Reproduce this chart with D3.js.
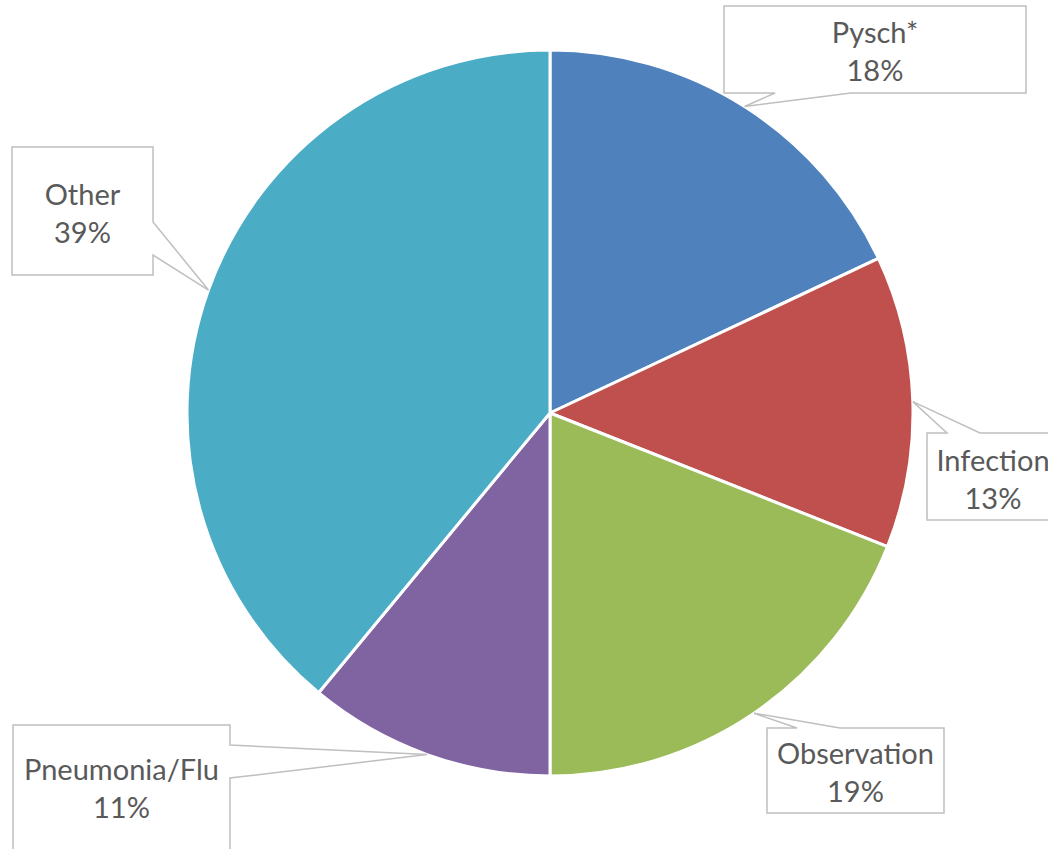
<!DOCTYPE html>
<html>
<head>
<meta charset="utf-8">
<script src="https://cdn.jsdelivr.net/npm/d3@7"></script>
<style>
  html, body { margin: 0; padding: 0; background: #fff; }
  svg { display: block; }
</style>
</head>
<body>
<div id="chart"></div>
<script>
// data
var categories = ["Pysch*", "Infection", "Observation", "Pneumonia/Flu", "Other"];
var shares = [18, 13, 19, 11, 39];
var sliceColors = ["#4F81BD", "#C0504D", "#9BBB59", "#8064A2", "#4BACC6"];

// callout boxes (layout only): box rect, side the pointer leaves from, pointer base span, first text baseline
var callouts = [
    {x: 724, y: 6, w: 302, h: 87, side: "bottom", base: [775, 851], ty: 43},
    {x: 927, y: 433, w: 132, h: 87, side: "top", base: [947, 980], ty: 471},
    {x: 767, y: 728, w: 177, h: 85, side: "top", base: [797, 840], ty: 764},
    {x: 13, y: 725, w: 217, h: 140, side: "right", base: [745, 778], ty: 780},
    {x: 12, y: 147, w: 141, h: 128, side: "right", base: [222, 255], ty: 205}
];

var W = 1048, H = 849;
var cx = 550, cy = 413, R = 363;

var svg = d3.select("#chart").append("svg")
    .attr("width", W)
    .attr("height", H);

var pie = d3.pie().sort(null).value(function(d) { return d; });
var arcs = pie(shares);
var arc = d3.arc().innerRadius(0).outerRadius(R);

var g = svg.append("g").attr("transform", "translate(" + cx + "," + cy + ")");

g.selectAll("path.slice")
    .data(arcs)
    .enter().append("path")
    .attr("class", "slice")
    .attr("d", arc)
    .attr("fill", function(d, i) { return sliceColors[i]; })
    .attr("stroke", "#fff")
    .attr("stroke-width", 3)
    .attr("stroke-linejoin", "round");

function calloutPath(c, tip) {
    var x0 = c.x, y0 = c.y, x1 = c.x + c.w, y1 = c.y + c.h;
    var p = [];
    if (c.side === "top") {
        p = [[x0, y0], [c.base[0], y0], tip, [c.base[1], y0], [x1, y0], [x1, y1], [x0, y1]];
    } else if (c.side === "bottom") {
        p = [[x0, y0], [x1, y0], [x1, y1], [c.base[1], y1], tip, [c.base[0], y1], [x0, y1]];
    } else if (c.side === "right") {
        p = [[x0, y0], [x1, y0], [x1, c.base[0]], tip, [x1, c.base[1]], [x1, y1], [x0, y1]];
    } else {
        p = [[x0, y0], [x1, y0], [x1, y1], [x0, y1], [x0, c.base[1]], tip, [x0, c.base[0]]];
    }
    return "M" + p.map(function(q) { return q[0] + "," + q[1]; }).join("L") + "Z";
}

var labels = svg.append("g").attr("class", "labels");

arcs.forEach(function(d, i) {
    var c = callouts[i];
    var mid = (d.startAngle + d.endAngle) / 2;
    var tip = [cx + R * Math.sin(mid), cy - R * Math.cos(mid)];

    labels.append("path")
        .attr("d", calloutPath(c, tip))
        .attr("fill", "#fff")
        .attr("stroke", "#BFBFBF")
        .attr("stroke-width", 1.5);

    var t = labels.append("text")
        .attr("text-anchor", "middle")
        .style("font-family", "Lato, 'Open Sans', sans-serif")
        .style("font-size", "29px")
        .style("fill", "#595959");
    t.append("tspan")
        .attr("x", c.x + c.w / 2)
        .attr("y", c.ty)
        .text(categories[i]);
    t.append("tspan")
        .attr("x", c.x + c.w / 2)
        .attr("y", c.ty + 38)
        .text(shares[i] + "%");
});
</script>
</body>
</html>
